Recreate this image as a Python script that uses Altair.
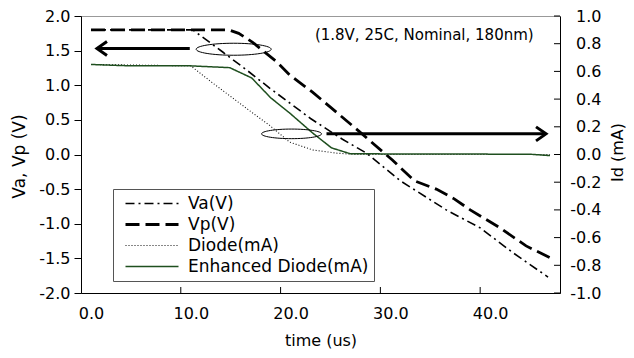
import altair as alt
import pandas as pd

FONT = "DejaVu Sans"

# ---- data ----
va_t = [0, 10.2, 13.2, 15.6, 17.9, 22.0, 25.2, 27.6, 31.0, 35.6, 39.0, 42.3, 45.8]
va_v = [1.80, 1.80, 1.48, 1.22, 0.96, 0.52, 0.22, 0.02, -0.38, -0.80, -1.06, -1.42, -1.77]

vp_t = [0, 13.8, 14.8, 16.2, 18.6, 19.9, 22.2, 24.6, 26.9, 30.2, 32.4, 34.6, 36.4, 38.0, 41.0, 43.6, 46.0]
vp_v = [1.80, 1.80, 1.75, 1.62, 1.34, 1.15, 0.90, 0.61, 0.33, -0.08, -0.38, -0.50, -0.64, -0.80, -1.06, -1.32, -1.49]

diode_t = [0, 10.0, 12.2, 14.2, 16.2, 17.9, 19.9, 22.2, 24.6, 26.5, 46.0]
diode_i = [0.65, 0.64, 0.516, 0.408, 0.30, 0.21, 0.09, 0.033, 0.01, 0.0, 0.0]

enh_t = [0, 4.0, 10.0, 13.9, 16.1, 18.0, 19.9, 22.2, 24.1, 26.0, 44.0, 46.0]
enh_i = [0.65, 0.64, 0.64, 0.627, 0.553, 0.41, 0.30, 0.156, 0.048, 0.005, 0.002, -0.008]

series_names = ["Va(V)", "Vp(V)", "Diode(mA)", "Enhanced Diode(mA)"]
series_colors = ["#000000", "#000000", "#111111", "#1f4f1f"]
series_dash = [[9, 4, 2, 4], [14, 6], [1, 2], [1, 0]]
series_width = [1.6, 2.8, 1.1, 1.5]

x_ticks = [0, 10, 20, 30, 40]
x_marks = [9, 19, 29, 39]
yl_ticks = [-2.0, -1.5, -1.0, -0.5, 0.0, 0.5, 1.0, 1.5, 2.0]
yr_ticks = [-1.0, -0.8, -0.6, -0.4, -0.2, 0.0, 0.2, 0.4, 0.6, 0.8, 1.0]

note_text = ["(1.8V, 25C, Nominal, 180nm)"]
note_t = [33.4]
note_v = [1.73]

left_arrow_tail = [9.9]
left_arrow_end = [0.8]
left_arrow_tip = [0.6]
left_arrow_v = [1.53]

right_arrow_tail = [23.6]
right_arrow_end = [45.4]
right_arrow_tip = [45.6]
right_arrow_i = [0.149]

ell1_t, ell1_v = [14.3], [1.52]
ell2_t, ell2_i = [20.1], [0.149]

# ---- tables ----
volt_df = pd.concat([
    pd.DataFrame({"t": va_t, "val": va_v, "series": series_names[0]}),
    pd.DataFrame({"t": vp_t, "val": vp_v, "series": series_names[1]}),
])
curr_df = pd.concat([
    pd.DataFrame({"t": diode_t, "val": diode_i, "series": series_names[2]}),
    pd.DataFrame({"t": enh_t, "val": enh_i, "series": series_names[3]}),
])

W, H = 479, 277

xscale = alt.Scale(domain=[-1, 47], nice=False, zero=False)
ylscale = alt.Scale(domain=[-2, 2], nice=False)
yrscale = alt.Scale(domain=[-1, 1], nice=False)

common_axis = dict(labelFont=FONT, labelFontSize=16, labelColor="black",
                   titleFont=FONT, titleFontWeight="normal", titleColor="black",
                   domainColor="black", tickColor="black", grid=False,
                   labelFlush=False, labelOverlap=False)
minus_fix = "replace(datum.label, '\u2212', '-')"

xaxis = alt.Axis(values=x_ticks, format=".1f", title="time (us)", ticks=False,
                 labelPadding=12, titleFontSize=16, titleY=47,
                 titleBaseline="middle", **common_axis)
ylaxis = alt.Axis(values=yl_ticks, format=".1f", labelExpr=minus_fix,
                  title="Va, Vp (V)", tickSize=7, labelPadding=4,
                  titleFontSize=17, titleAngle=-90, titleX=-62, titleY=140,
                  titleBaseline="middle", titleAlign="center", **common_axis)
yraxis = alt.Axis(orient="right", values=yr_ticks, format=".1f", labelExpr=minus_fix,
                  title="Id (mA)", ticks=False, labelAlign="right", labelPadding=41,
                  titleFontSize=16, titleAngle=-90, titleX=57, titleY=136,
                  titleBaseline="middle", titleAlign="center", **common_axis)

legend = alt.Legend(title=None, orient="none", legendX=32, legendY=173,
                    strokeColor="#555555", fillColor="white", padding=5,
                    symbolType="stroke", symbolSize=2809, symbolOffset=6,
                    labelOffset=8, labelFont=FONT, labelFontSize=17,
                    labelColor="black", labelLimit=300, rowPadding=2,
                    clipHeight=19)

X = lambda f: alt.X(f, type="quantitative", scale=xscale, axis=xaxis)
YL = lambda f: alt.Y(f, type="quantitative", scale=ylscale, axis=ylaxis)
YR = lambda f: alt.Y(f, type="quantitative", scale=yrscale, axis=yraxis)

style_enc = dict(
    color=alt.Color("series:N", scale=alt.Scale(domain=series_names, range=series_colors), legend=legend),
    strokeDash=alt.StrokeDash("series:N", scale=alt.Scale(domain=series_names, range=series_dash), legend=legend),
    strokeWidth=alt.StrokeWidth("series:N", scale=alt.Scale(type="ordinal", domain=series_names, range=series_width), legend=legend),
)

ell_path = ("M-1,0 C-1,-0.088 -0.552,-0.16 0,-0.16 C0.552,-0.16 1,-0.088 1,0 "
            "C1,0.088 0.552,0.16 0,0.16 C-0.552,0.16 -1,0.088 -1,0 Z")
head_left = "M1,-0.7 L0,0 L1,0.7"
head_right = "M-1,-0.7 L0,0 L-1,0.7"

volt_lines = alt.Chart(volt_df).mark_line().encode(x=X("t"), y=YL("val"), **style_enc)

la_df = pd.DataFrame({"a": left_arrow_tail, "b": left_arrow_end, "tip": left_arrow_tip, "v": left_arrow_v})
left_shaft = alt.Chart(la_df).mark_rule(color="black", strokeWidth=3).encode(x=X("a"), x2="b", y=YL("v"))
left_head = alt.Chart(la_df).mark_point(shape=head_left, filled=False, color="black",
                                        strokeWidth=3, size=400, opacity=1).encode(x=X("tip"), y=YL("v"))
ell1 = alt.Chart(pd.DataFrame({"t": ell1_t, "v": ell1_v})).mark_point(
    shape=ell_path, filled=False, color="black", strokeWidth=1, size=5625, opacity=1
).encode(x=X("t"), y=YL("v"))
note = alt.Chart(pd.DataFrame({"t": note_t, "v": note_v, "txt": note_text})).mark_text(
    font=FONT, fontSize=15, align="center", baseline="middle", color="black"
).encode(x=X("t"), y=YL("v"), text="txt:N")
xtick_rules = alt.Chart(pd.DataFrame({"t": x_marks})).mark_rule(color="black").encode(
    x=X("t"), y=alt.value(H), y2=alt.value(H - 6))

curr_lines = alt.Chart(curr_df).mark_line().encode(x=X("t"), y=YR("val"), **style_enc)
ra_df = pd.DataFrame({"a": right_arrow_tail, "b": right_arrow_end, "tip": right_arrow_tip, "i": right_arrow_i})
right_shaft = alt.Chart(ra_df).mark_rule(color="black", strokeWidth=3).encode(x=X("a"), x2="b", y=YR("i"))
right_head = alt.Chart(ra_df).mark_point(shape=head_right, filled=False, color="black",
                                         strokeWidth=3, size=400, opacity=1).encode(x=X("tip"), y=YR("i"))
ell2 = alt.Chart(pd.DataFrame({"t": ell2_t, "i": ell2_i})).mark_point(
    shape=ell_path, filled=False, color="black", strokeWidth=1, size=3600, opacity=1
).encode(x=X("t"), y=YR("i"))
rtick_rules = alt.Chart(pd.DataFrame({"i": yr_ticks})).mark_rule(color="black").encode(
    y=YR("i"), x=alt.value(W - 6), x2=alt.value(W))

left = alt.layer(volt_lines, left_shaft, left_head, ell1, note, xtick_rules)
right = alt.layer(curr_lines, right_shaft, right_head, ell2, rtick_rules)

chart = alt.layer(left, right).resolve_scale(y="independent").properties(
    width=W, height=H,
    autosize=alt.AutoSizeParams(type="none"),
    padding={"left": 73, "top": 8, "right": 66, "bottom": 57},
).configure_view(stroke="#999999", strokeWidth=1)

chart.save("out.html", embed_options={"renderer": "svg", "actions": False})
